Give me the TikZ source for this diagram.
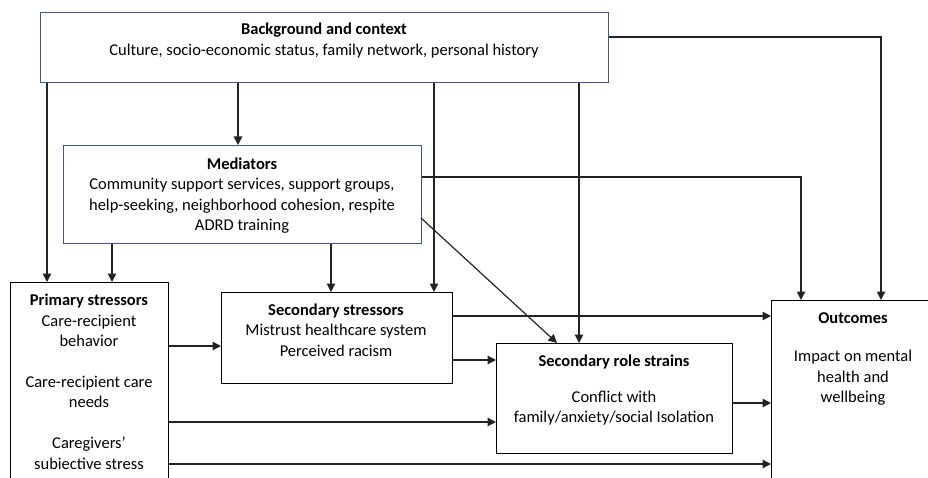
\documentclass[tikz,border=0pt]{standalone}
\usepackage{fontspec}
\setmainfont{Carlito}
\usetikzlibrary{arrows.meta}
\definecolor{boxblue}{RGB}{60,85,150}
\definecolor{linegray}{RGB}{35,35,35}
\begin{document}
\begin{tikzpicture}[x=1pt,y=-1pt,
  box/.style={draw=black, line width=1.2pt, inner sep=0pt, anchor=north west, fill=none},
  bluebox/.style={box, draw=boxblue},
  txt/.style={inner sep=0pt, font=\fontsize{16.5}{20.5}\selectfont, align=center, anchor=center},
  conn/.style={draw=linegray, line width=1.2pt, -{Triangle[length=8.5pt,width=8.5pt]}},
  seg/.style={draw=linegray, line width=1.2pt}]
\useasboundingbox (0,0) rectangle (928,478);
\clip (0,0) rectangle (928,478);
% boxes
\node[bluebox, minimum width=568pt, minimum height=70pt] (bg) at (40,12) {};
\node[bluebox, minimum width=358pt, minimum height=98pt] (med) at (63,145) {};
\node[box, minimum width=158pt, minimum height=196pt] (prim) at (10,282) {};
\node[box, minimum width=231pt, minimum height=91pt] (sec) at (221,292) {};
\node[box, minimum width=236pt, minimum height=110pt] (role) at (496,343) {};
\node[box, minimum width=220pt, minimum height=220pt] (out) at (771,300) {};
% texts
\node[txt] (bgt1) at (324,30) {\bfseries Background and context};
\node[txt] (bgt2) at (324,51) {Culture, socio-economic status, family network, personal history};
\node[txt] (medt) at (242,195.5) {\bfseries Mediators\\Community support services, support groups,\\help-seeking, neighborhood cohesion, respite\\ADRD training};
\node[txt] (primt1) at (89,320.5) {\bfseries Primary stressors\\Care-recipient\\behavior};
\node[txt] (primt2) at (89,392) {Care-recipient care\\needs};
\node[txt] (primt3) at (89,453) {Caregivers’\\subiective stress};
\node[txt] (sect) at (336,330) {\bfseries Secondary stressors\\Mistrust healthcare system\\Perceived racism};
\node[txt] (rolet1) at (614,362) {\bfseries Secondary role strains};
\node[txt] (rolet2) at (614,408) {Conflict with\\family/anxiety/social Isolation};
\node[txt] (outt1) at (853,318) {\bfseries Outcomes};
\node[txt] (outt2) at (853,378) {Impact on mental\\health and\\wellbeing};
% connector coordinates
\coordinate (bgR) at (bg.north east |- 0,37);
\coordinate (bgC1) at (881,37);
\coordinate (medR) at (med.north east |- 0,177);
\coordinate (medC1) at (801,177);
\coordinate (medD) at (421,218);
% from background
\draw[conn] (bg.south -| 238,0) -- (med.north -| 238,0);
\draw[conn] (bg.south -| 47,0) -- (prim.north -| 47,0);
\draw[conn] (bg.south -| 434,0) -- (sec.north -| 434,0);
\draw[conn] (bg.south -| 579,0) -- (role.north -| 579,0);
\draw[conn] (bgR) -- (bgC1) -- (out.north -| bgC1);
% from mediators
\draw[conn] (med.south -| 112,0) -- (prim.north -| 112,0);
\draw[conn] (med.south -| 331,0) -- (sec.north -| 331,0);
\draw[conn] (medR) -- (medC1) -- (out.north -| medC1);
\draw[conn] (medD) -- (role.north -| 557,0);
% from secondary stressors
\draw[conn] (sec.east |- 0,316) -- (out.west |- 0,316);
\draw[conn] (sec.east |- 0,360) -- (role.west |- 0,360);
% from primary stressors
\draw[conn] (prim.east |- 0,346) -- (sec.west |- 0,346);
\draw[conn] (prim.east |- 0,422) -- (role.west |- 0,422);
\draw[conn] (prim.east |- 0,464) -- (out.west |- 0,464);
% role strains to outcomes
\draw[conn] (role.east |- 0,403) -- (out.west |- 0,403);
\end{tikzpicture}
\end{document}
